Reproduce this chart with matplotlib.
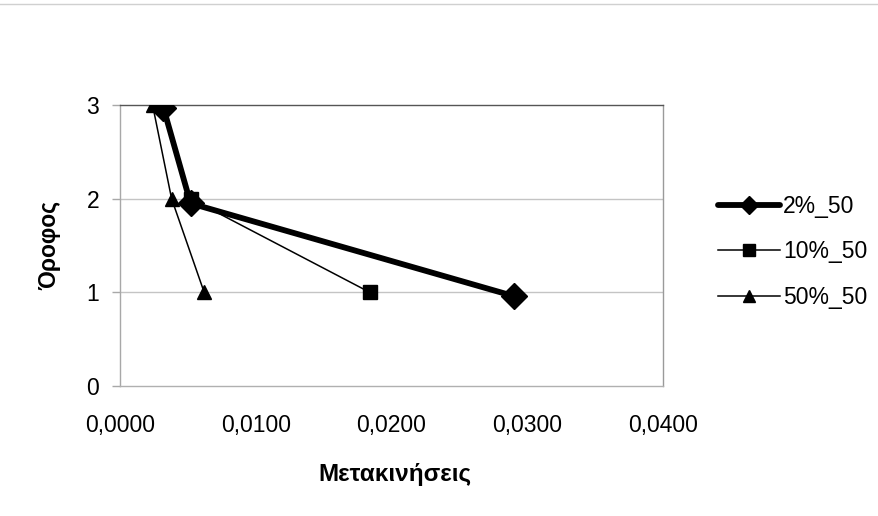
import matplotlib
matplotlib.use("Agg")
import matplotlib.pyplot as plt
from matplotlib.lines import Line2D
from matplotlib.ticker import FixedLocator, FuncFormatter

# Displacements per floor for each load case
floors = [3, 2, 1]
series_names = ["2%_50", "10%_50", "50%_50"]
disp_2 = [0.0032, 0.0052, 0.0290]
floor_2 = [2.97, 1.95, 0.96]
disp_10 = [0.0032, 0.0052, 0.0184]
disp_50 = [0.0024, 0.0038, 0.0062]

x_ticks = [0.0, 0.01, 0.02, 0.03, 0.04]
y_ticks = [0, 1, 2, 3]

plt.rcParams["font.family"] = ["Liberation Sans", "DejaVu Sans"]

W, H = 879, 516
fig = plt.figure(figsize=(W / 100, H / 100), dpi=100)
fig.patch.set_facecolor("white")

ax = fig.add_axes([120 / W, 1 - 386 / H, 543 / W, 281 / H])
ax.set_xlim(0, 0.04)
ax.set_ylim(0, 3)

# grid and frame
for yv in y_ticks[1:3]:
    ax.axhline(yv, color="#c4c4c4", lw=1.0, zorder=1)
ax.spines["left"].set_color("#a8a8a8")
ax.spines["bottom"].set_color("#b0b0b0")
ax.spines["right"].set_color("#9a9a9a")
ax.spines["top"].set_color("#555555")
for s in ax.spines.values():
    s.set_linewidth(1.0)

l10, = ax.plot(disp_10, floors, color="black", lw=1.1, marker="s", ms=10,
               zorder=3)
l50, = ax.plot(disp_50, floors, color="black", lw=1.1, marker="^", ms=10,
               zorder=4)
l2, = ax.plot(disp_2, floor_2, color="black", lw=4.2, marker="D", ms=13,
              mec="black", mfc="black", solid_joinstyle="round", zorder=5)

ax.xaxis.set_major_locator(FixedLocator(x_ticks))
ax.xaxis.set_major_formatter(FuncFormatter(lambda v, p: f"{v:.4f}".replace(".", ",")))
ax.yaxis.set_major_locator(FixedLocator(y_ticks))
ax.tick_params(axis="x", length=0, pad=20, labelsize=16.5)
ax.tick_params(axis="y", length=6, width=1.0, color="#a8a8a8", pad=9, labelsize=16.5)

fig.text(395 / W, 1 - 474 / H, "Μετακινήσεις", ha="center", va="center",
         fontsize=17.5, fontweight="bold")
fig.text(50 / W, 1 - 245 / H, "Όροφος", ha="center", va="center",
         rotation=90, fontsize=16.5, fontweight="bold")

handles = [
    Line2D([], [], color="black", lw=4.2, marker="D", ms=9, solid_capstyle="round"),
    Line2D([], [], color="black", lw=1.1, marker="s", ms=9),
    Line2D([], [], color="black", lw=1.1, marker="^", ms=9),
]
fig.legend(handles, series_names, loc="upper left",
           bbox_to_anchor=(718 / W, 1 - 195 / H), frameon=False,
           fontsize=16.5, handlelength=2.7, handletextpad=0.15,
           labelspacing=0.98, borderpad=0, borderaxespad=0)

# faint outer chart border line at the top
fig.add_artist(Line2D([0, 1], [1 - 4 / H, 1 - 4 / H], transform=fig.transFigure,
                      color="#d0d0d0", lw=1.0))

fig.savefig("out.png", dpi=100, facecolor="white")
